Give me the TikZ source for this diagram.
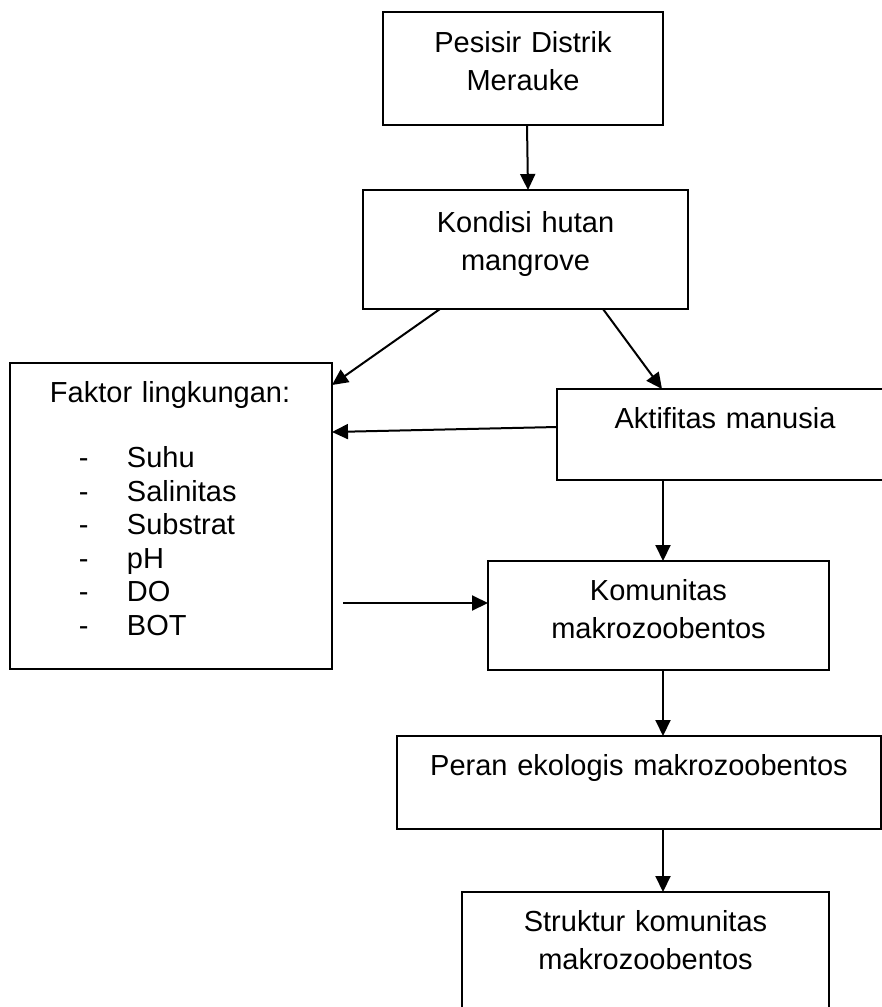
\documentclass[tikz,border=0pt]{standalone}
\usepackage{fontspec}
\setmainfont{Liberation Sans}
\usetikzlibrary{arrows.meta}

\begin{document}
\begin{tikzpicture}[x=0.5pt,y=-0.5pt,
  box/.style={draw, line width=1pt, inner sep=0pt, outer sep=0pt, align=center,
    anchor=north west, font=\fontsize{14.5pt}{19pt}\selectfont, text height=19.5pt},
  arr/.style={line width=1pt, -{Triangle[length=8pt,width=7.5pt]}}]
\useasboundingbox (0,0) rectangle (882,1007);
\clip (0,0) rectangle (882,1007);

% boxes
\node[box, text width=140pt, text height=20pt, text depth=36.5pt] (pesisir) at (383,12) {Pesisir Distrik\\Merauke};
\node[box, text width=162.5pt, text height=21pt, text depth=38.5pt] (kondisi) at (363,190) {Kondisi hutan\\mangrove};
\node[box, align=left, text width=161pt, text depth=133.5pt,
  font=\fontsize{14.5pt}{16.75pt}\selectfont] (faktor) at (10,363)
  {\hspace*{20pt}Faktor lingkungan:\\[16pt]
   \hspace*{34.5pt}\makebox[24pt][l]{-}Suhu\\
   \hspace*{34.5pt}\makebox[24pt][l]{-}Salinitas\\
   \hspace*{34.5pt}\makebox[24pt][l]{-}Substrat\\
   \hspace*{34.5pt}\makebox[24pt][l]{-}pH\\
   \hspace*{34.5pt}\makebox[24pt][l]{-}DO\\
   \hspace*{34.5pt}\makebox[24pt][l]{-}BOT};
\node[box, text width=168pt, text depth=26pt] (aktifitas) at (557,389) {Aktifitas manusia};
\node[box, text width=170.5pt, text depth=35pt] (komunitas) at (488,561) {Komunitas\\makrozoobentos};
\node[box, text width=242pt, text depth=27pt] (peran) at (397,736) {Peran ekologis makrozoobentos};
\node[box, text width=183.5pt, text depth=40pt] (struktur) at (462,892) {Struktur komunitas\\makrozoobentos};

% connectors
\coordinate (axis) at (663,0);
\coordinate (kin) at ([yshift=-21pt]komunitas.north west);
\path (faktor.east |- kin) ++(5.5pt,0) coordinate (kout);

\draw[arr] ([xshift=2pt]pesisir.south) -- ([xshift=1.25pt]kondisi.north);
\draw[arr] ([xshift=38.5pt]kondisi.south west) -- ([yshift=-11pt]faktor.north east);
\draw[arr] ([xshift=120pt]kondisi.south west) -- ([xshift=52.5pt]aktifitas.north west);
\draw[arr] ([yshift=-19pt]aktifitas.north west) -- ([yshift=-34.5pt]faktor.north east);
\draw[arr] (aktifitas.south -| axis) -- (komunitas.north -| axis);
\draw[arr] (kout) -- (kin);
\draw[arr] (komunitas.south -| axis) -- (peran.north -| axis);
\draw[arr] (peran.south -| axis) -- (struktur.north -| axis);
\end{tikzpicture}
\end{document}
